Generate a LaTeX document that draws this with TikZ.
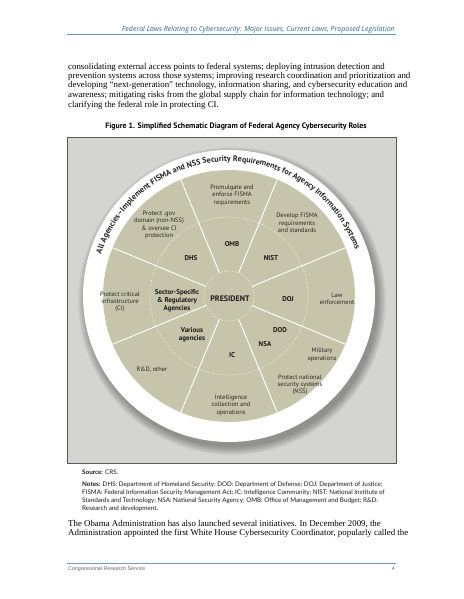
\documentclass[tikz,border=0pt]{standalone}
\usepackage{fontspec}
\setmainfont{Liberation Serif}
\newfontfamily\figsans{PT Sans}
\newfontfamily\notesans{Lato}
\newfontfamily\hdrsans{Open Sans}
\newfontfamily\ftrsans{Liberation Sans}
\usetikzlibrary{decorations.text}
\definecolor{boxgray}{HTML}{D4D4D0}
\definecolor{beige}{HTML}{C6C5AC}
\definecolor{hdrblue}{HTML}{2B6A8C}
\definecolor{hdrline}{HTML}{5C9AA6}
\definecolor{ftrline}{HTML}{7A9CB0}
\begin{document}
\begin{tikzpicture}[x=1pt,y=-1pt,
  body/.style={anchor=base west, inner sep=0pt, font=\fontsize{8.85}{9.3}\selectfont},
  role/.style={align=center, inner sep=0pt, font=\figsans\fontsize{6.4}{7.4}\selectfont, text=black!85},
  agency/.style={align=center, inner sep=0pt, font=\figsans\bfseries\fontsize{7}{8}\selectfont, text=black!90},
  note/.style={anchor=base west, inner sep=0pt, font=\notesans\fontsize{6.3}{7}\selectfont, text=black!90},
  spoke/.style={white, line width=0.9pt},
  dotring/.style={white, line width=0.7pt, dotted}
]
\useasboundingbox (0,0) rectangle (463,599);
\fill[white] (0,0) rectangle (463,599);

% header
\node[anchor=base east, inner sep=0pt, text=hdrblue, font=\hdrsans\itshape\fontsize{7}{8}\selectfont] (hdr) at (395,32) {Federal Laws Relating to Cybersecurity: Major Issues, Current Laws, Proposed Legislation};
\draw[hdrline, line width=1pt] (67,34.5) -- (396,34.5);

% body text top
\node[body] (b1) at (68,69.5) {consolidating external access points to federal systems; deploying intrusion detection and};
\node[body] (b2) at (68,78.5) {prevention systems across those systems; improving research coordination and prioritization and};
\node[body] (b3) at (68,88) {developing “next-generation” technology, information sharing, and cybersecurity education and};
\node[body] (b4) at (68,97.5) {awareness; mitigating risks from the global supply chain for information technology; and};
\node[body] (b5) at (68,107) {clarifying the federal role in protecting CI.};

% figure title
\node[inner sep=0pt, anchor=base, font=\figsans\bfseries\fontsize{7.85}{9}\selectfont] (title) at (236,128.5) {Figure 1. Simplified Schematic Diagram of Federal Agency Cybersecurity Roles};

% gray box
\draw[fill=boxgray, draw=black!65, line width=0.6pt] (67,137) rectangle (396,463);

% circle
\begin{scope}[shift={(229,296)}, y=1pt]
  \foreach \i in {1,...,10} \fill[black, opacity=0.035] (3,-5) circle ({145+\i*0.9});
  \fill[white] (0,0) circle (146);
  \fill[beige] (0,0) circle (126);
  \draw[white, line width=0.5pt, dotted] (0,0) circle (126);
  \foreach \a in {22.5,67.5,...,337.5} \draw[spoke] (\a:25) -- (\a:126);
  \draw[dotring] (0,0) circle (79);
  \draw[dotring] (0,0) circle (25);
  \path[decorate, decoration={text along path, text align=center,
     text={|\figsans\bfseries\fontsize{8.1}{8}\selectfont\color{black!85}|All Agencies–Implement FISMA and NSS Security Requirements for Agency Information Systems}}]
     (167:134.5) arc[start angle=167, end angle=15, radius=134.5];
\end{scope}

% roles
\node[role] (omb-r) at (232,195) {Promulgate and\\enforce FISMA\\requirements};
\node[role] (dhs-r) at (159,225) {Protect .gov\\domain (non-NSS)\\\& oversee CI\\protection};
\node[role] (nist-r) at (297,223) {Develop FISMA\\requirements\\and standards};
\node[role] (ci-r) at (120,302) {Protect critical\\infrastructure\\(CI)};
\node[role] (law-r) at (337,299) {Law\\enforcement};
\node[role] (mil-r) at (322,355) {Military\\operations};
\node[role] (nss-r) at (300,385) {Protect national\\security systems\\(NSS)};
\node[role] (intel-r) at (231,405) {Intelligence\\collection and\\operations};
\node[role] (rd-r) at (152,370) {R\&D, other};

% agencies
\node[agency] (omb) at (232,244) {OMB};
\node[agency] (dhs) at (191,258) {DHS};
\node[agency] (nist) at (271,258) {NIST};
\node[agency, font=\figsans\bfseries\fontsize{8}{9}\selectfont] (pres) at (230,299) {PRESIDENT};
\node[agency] (ssra) at (177,301) {Sector-Specific\\\& Regulatory\\Agencies};
\node[agency] (doj) at (288,299) {DOJ};
\node[agency] (dod) at (280,330) {DOD};
\node[agency] (nsa) at (265,344) {NSA};
\node[agency] (var) at (192,335) {Various\\agencies};
\node[agency] (ic) at (232,355) {IC};

% source and notes
\node[note] (src) at (82,474.5) {\textbf{Source:} CRS.};
\node[note] (n1) at (82,486) {\textbf{Notes:} DHS: Department of Homeland Security; DOD: Department of Defense; DOJ: Department of Justice;};
\node[note] (n2) at (82,494.5) {FISMA: Federal Information Security Management Act; IC: Intelligence Community; NIST: National Institute of};
\node[note] (n3) at (82,502.5) {Standards and Technology; NSA: National Security Agency; OMB: Office of Management and Budget; R\&D:};
\node[note] (n4) at (82,510.5) {Research and development.};

% body text bottom
\node[body] (b6) at (68,526) {The Obama Administration has also launched several initiatives. In December 2009, the};
\node[body] (b7) at (68,535) {Administration appointed the first White House Cybersecurity Coordinator, popularly called the};

% footer
\draw[ftrline, line width=1pt] (67,563) -- (396,563);
\node[anchor=base west, inner sep=0pt, text=black!60, font=\ftrsans\fontsize{5.3}{6}\selectfont] (ftr) at (68,570.5) {Congressional Research Service};
\node[anchor=base east, inner sep=0pt, text=black!60, font=\ftrsans\fontsize{5.3}{6}\selectfont] (pg) at (395,570.5) {4};
\end{tikzpicture}
\end{document}
